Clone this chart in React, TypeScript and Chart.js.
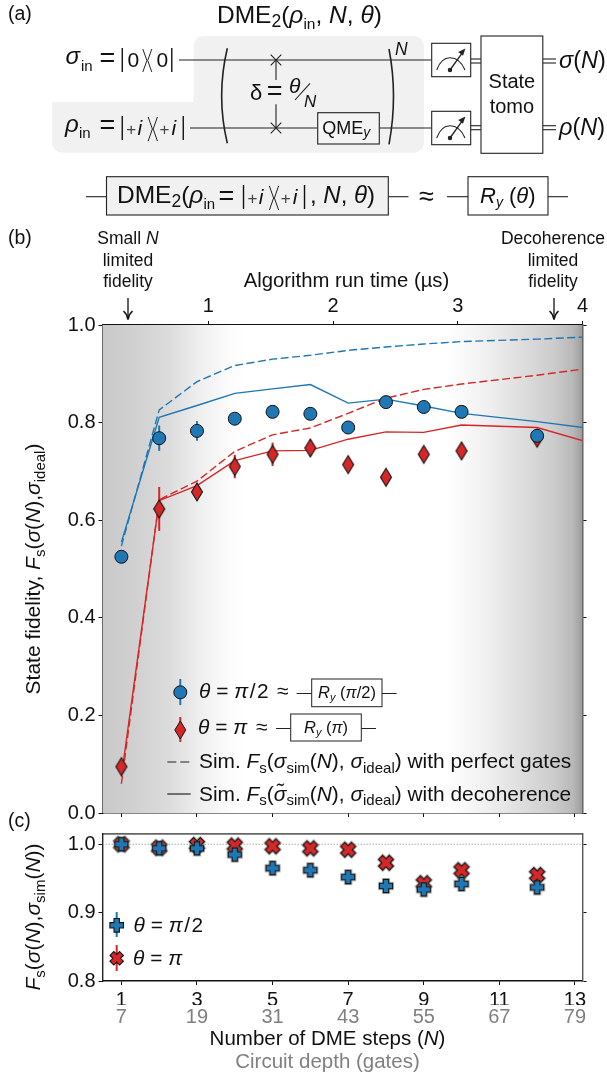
import React, { useEffect, useRef } from "react";
import { Chart, registerables } from "chart.js";

Chart.register(...registerables);

const FONT = '"Liberation Sans", Arial, sans-serif';
const BLUE = "#1f77b4";
const RED = "#d62728";

// ---- Data ----
const stepN = [1, 2, 3, 4, 5, 6, 7, 8, 9, 10, 12];
const simN = [1, 2, 3, 4, 5, 6, 7, 8, 9, 10, 12, 14];

const blueMeasured = [0.525, 0.768, 0.783, 0.808, 0.822, 0.818, 0.79, 0.842, 0.832, 0.822, 0.773];
const blueMeasuredErr = [0.006, 0.026, 0.02, 0.008, 0.006, 0.006, 0.006, 0.006, 0.006, 0.006, 0.012];
const redMeasured = [0.095, 0.623, 0.658, 0.71, 0.735, 0.748, 0.714, 0.688, 0.735, 0.742, 0.768];
const redMeasuredErr = [0.012, 0.045, 0.015, 0.024, 0.024, 0.016, 0.012, 0.012, 0.012, 0.012, 0.012];

const bluePerfect = [0.547, 0.826, 0.884, 0.917, 0.93, 0.938, 0.948, 0.955, 0.961, 0.966, 0.971, 0.978];
const blueDecoh = [0.555, 0.811, 0.835, 0.86, 0.869, 0.878, 0.84, 0.848, 0.834, 0.819, 0.802, 0.782];
const redPerfect = [0.06, 0.642, 0.68, 0.741, 0.775, 0.789, 0.819, 0.85, 0.868, 0.879, 0.897, 0.918];
const redDecoh = [0.075, 0.64, 0.671, 0.722, 0.742, 0.743, 0.766, 0.781, 0.78, 0.795, 0.79, 0.745];

const bluePerf = [1.0, 0.994, 0.994, 0.985, 0.965, 0.962, 0.952, 0.939, 0.934, 0.942, 0.937];
const bluePerfErr = [0.002, 0.003, 0.004, 0.004, 0.004, 0.004, 0.004, 0.004, 0.004, 0.004, 0.004];
const redPerf = [1.0, 0.995, 0.999, 0.998, 0.997, 0.994, 0.992, 0.973, 0.943, 0.962, 0.955];
const redPerfErr = [0.002, 0.003, 0.004, 0.004, 0.003, 0.003, 0.003, 0.004, 0.004, 0.004, 0.004];

const stepTicks = [1, 3, 5, 7, 9, 11, 13];
const depthLabels = [7, 19, 31, 43, 55, 67, 79];
const timeTicks = [1, 2, 3, 4];
const fidelityTicks = [0, 0.2, 0.4, 0.6, 0.8, 1.0];
const overlapTicks = [0.8, 0.9, 1.0];
const refLineN = [0.5, 13.2];
const refLineY = [1, 1];

const N_MIN = 0.5;
const N_MAX = 13.2;
const US_PER_STEP = 0.303;

// ---- Helpers ----
const pts = (xs: number[], ys: number[]) => xs.map((x, i) => ({ x, y: ys[i] }));

function marker(w: number, h: number, path: (c: CanvasRenderingContext2D) => void, fill: string, halo: boolean) {
  const cv = document.createElement("canvas");
  cv.width = w;
  cv.height = h;
  const c = cv.getContext("2d")!;
  c.translate(w / 2, h / 2);
  path(c);
  if (halo) {
    c.strokeStyle = "rgba(120,120,120,0.45)";
    c.lineWidth = 3;
    c.stroke();
  }
  c.fillStyle = fill;
  c.fill();
  c.strokeStyle = "#111";
  c.lineWidth = 1.1;
  c.lineJoin = "miter";
  c.stroke();
  return cv;
}
const diamondPath = (c: CanvasRenderingContext2D) => {
  c.beginPath();
  c.moveTo(0, -9);
  c.lineTo(5.5, 0);
  c.lineTo(0, 9);
  c.lineTo(-5.5, 0);
  c.closePath();
};
const plusPath = (rot: number, a: number, b: number) => (c: CanvasRenderingContext2D) => {
  c.rotate(rot);
  c.beginPath();
  c.moveTo(-b, -a);
  c.lineTo(b, -a);
  c.lineTo(b, -b);
  c.lineTo(a, -b);
  c.lineTo(a, b);
  c.lineTo(b, b);
  c.lineTo(b, a);
  c.lineTo(-b, a);
  c.lineTo(-b, b);
  c.lineTo(-a, b);
  c.lineTo(-a, -b);
  c.lineTo(-b, -b);
  c.closePath();
};

const errorBarPlugin = {
  id: "errorBars",
  beforeDatasetDraw(chart: any, args: any) {
    const ds = chart.data.datasets[args.index];
    if (!ds.errors) return;
    const { x, y } = chart.scales;
    const c = chart.ctx;
    c.save();
    c.strokeStyle = ds.errorColor;
    c.lineWidth = 2;
    ds.data.forEach((p: any, i: number) => {
      const px = x.getPixelForValue(p.x);
      c.beginPath();
      c.moveTo(px, y.getPixelForValue(p.y - ds.errors[i]));
      c.lineTo(px, y.getPixelForValue(p.y + ds.errors[i]));
      c.stroke();
    });
    c.restore();
  },
};

const vignettePlugin = {
  id: "vignette",
  beforeDatasetsDraw(chart: any) {
    const { ctx, chartArea: a } = chart;
    const g = ctx.createLinearGradient(a.left, 0, a.right, 0);
    [
      [0, "#c9c9c9"],
      [0.08, "#d2d2d2"],
      [0.14, "#dcdcdc"],
      [0.2, "#eeeeee"],
      [0.27, "#fdfdfd"],
      [0.3, "#ffffff"],
      [0.72, "#ffffff"],
      [0.8, "#f0f0f0"],
      [0.88, "#dcdcdc"],
      [0.94, "#cccccc"],
      [0.98, "#b8b8b8"],
      [1, "#9c9c9c"],
    ].forEach(([o, col]) => g.addColorStop(o as number, col as string));
    ctx.save();
    ctx.fillStyle = g;
    ctx.fillRect(a.left, a.top, a.right - a.left, a.bottom - a.top);
    ctx.restore();
  },
};

const fixedH = (h: number) => (s: any) => {
  s.height = h;
};
const fixedW = (w: number) => (s: any) => {
  s.width = w;
};
const setTicks = (vals: number[]) => (s: any) => {
  s.ticks = vals.map((value) => ({ value }));
};
const tickFont = { family: FONT, size: 20 };
const tickGrid = { drawOnChartArea: false, tickLength: 4, tickColor: "#111", tickWidth: 1 };

function lineDs(xs: number[], ys: number[], color: string, dashed: boolean, order: number) {
  return {
    data: pts(xs, ys),
    showLine: true,
    borderColor: color,
    borderWidth: 1.4,
    borderDash: dashed ? [8, 3.5] : [],
    pointRadius: 0,
    tension: 0,
    order,
  };
}
function markDs(ys: number[], errs: number[], style: any, color: string, order: number, radius: number) {
  return {
    data: pts(stepN, ys),
    errors: errs,
    errorColor: color,
    showLine: false,
    pointStyle: style,
    pointRadius: radius,
    pointBackgroundColor: color,
    pointBorderColor: "#111",
    pointBorderWidth: 1,
    order,
    clip: false,
  };
}

// ---- Small SVG text helpers ----
const I = ({ children }: any) => <tspan fontStyle="italic">{children}</tspan>;
const Sub = ({ t, d = 5, size = 14, italic = false }: any) => (
  <>
    <tspan dy={d} fontSize={size} fontStyle={italic ? "italic" : "normal"}>
      {t}
    </tspan>
    <tspan dy={-d}>{"\u200b"}</tspan>
  </>
);
const txt = { fontFamily: FONT, fill: "#111" };

const Bar = ({ x, y }: any) => (
  <text transform={`translate(${x} ${y}) scale(0.7 1)`} fontSize={25} textAnchor="middle">|</text>
);

// |0><0| : bars and digits are text, the narrow touching angle brackets are strokes.
const ZeroKet = () => (
  <g {...txt}>
    <Bar x={122.3} y={67} />
    <text x={127.5} y={66.7} fontSize={21}>0</text>
    <path d="M 142.8 49 L 146.9 60.5 L 142.8 72 M 151.8 49 L 147.7 60.5 L 151.8 72" fill="none" stroke="#222" strokeWidth={1} />
    <text x={156.5} y={66.7} fontSize={21}>0</text>
    <Bar x={171.7} y={67} />
  </g>
);
const PlusKet = ({ dx = 0, dy = 0 }: any) => (
  <g {...txt} transform={`translate(${dx} ${dy})`}>
    <Bar x={122.3} y={135} />
    <text x={126.3} y={134.5} fontSize={17} fontWeight={200} fill="#444">+</text>
    <text x={137.5} y={135} fontSize={21} fontStyle="italic">i</text>
    <path d="M 148.2 117 L 152.4 129 L 148.2 141 M 157.4 117 L 153.2 129 L 157.4 141" fill="none" stroke="#222" strokeWidth={1} />
    <text x={159.5} y={134.5} fontSize={17} fontWeight={200} fill="#444">+</text>
    <text x={171.5} y={135} fontSize={21} fontStyle="italic">i</text>
    <Bar x={183.3} y={135} />
  </g>
);

const Meter = ({ y }: { y: number }) => (
  <g fill="none" stroke="#222" strokeWidth={1.1}>
    <rect x={431.7} y={y} width={39} height={33.4} fill="#fff" />
    <path d={`M 436.7 ${y + 26.7} Q 441 ${y + 14.4} 450 ${y + 14.4} Q 460 ${y + 14.4} 465 ${y + 26.7}`} />
    <line x1={450} y1={y + 26.7} x2={463} y2={y + 8.5} strokeWidth={1.3} />
    <path d={`M 465.4 ${y + 5.2} l -7.2 3.6 l 4.8 3.6 Z`} fill="#222" stroke="none" />
    <circle cx={450} cy={y + 26.7} r={1.7} fill="#222" />
  </g>
);

const Arrow = ({ x }: { x: number }) => (
  <g stroke="#111" fill="none">
    <line x1={x} y1={298} x2={x} y2={318} strokeWidth={1.3} />
    <path d={`M ${x - 4.5} 311 Q ${x - 1} 314 ${x} 319.5 Q ${x + 1} 314 ${x + 4.5} 311`} strokeWidth={1.5} />
  </g>
);

function Overlay() {
  const base = txt;
  return (
    <svg
      width={607}
      height={1078}
      style={{ position: "absolute", left: 0, top: 0, pointerEvents: "none" }}
      xmlns="http://www.w3.org/2000/svg"
    >
      {/* Panel letters */}
      <g {...base} fontSize={19.5}>
        <text x={8} y={20}>(a)</text>
        <text x={8} y={244}>(b)</text>
        <text x={8} y={827}>(c)</text>
      </g>

      {/* Panel (a): circuit */}
      <path
        d="M 203.6 36 H 414 a 10 10 0 0 1 10 10 V 142.7 a 10 10 0 0 1 -10 10 H 62 a 10 10 0 0 1 -10 -10 V 102 H 193.6 V 46 a 10 10 0 0 1 10 -10 Z"
        fill="#f1f1f1"
      />
      <text {...base} x={217} y={23} fontSize={24.5}>
        DME<Sub t="2" d={4} size={17.5} />(<I>ρ</I><Sub t="in" d={6} size={15.5} />, <I>N</I>, <I>θ</I>)
      </text>
      <g stroke="#222" strokeWidth={1.1} fill="none">
        <line x1={179} y1={60} x2={431.7} y2={60} />
        <line x1={190} y1={128} x2={317.7} y2={128} />
        <line x1={379.3} y1={128} x2={431.7} y2={128} />
        <path d="M 227.3 48.3 Q 216 96 227.3 143.3" strokeWidth={1.6} />
        <path d="M 389 49 Q 398 96 389 144.3" strokeWidth={1.6} />
        <line x1={276} y1={60} x2={276} y2={80} />
        <line x1={276} y1={104.3} x2={276} y2={128} />
        <path d="M 270.7 54.7 L 281.3 65.3 M 270.7 65.3 L 281.3 54.7" />
        <path d="M 270.7 122.7 L 281.3 133.3 M 270.7 133.3 L 281.3 122.7" />
        <rect x={317.7} y={112.7} width={61.6} height={31.3} fill="#f4f4f4" />
        <line x1={470.7} y1={59} x2={481} y2={59} />
        <line x1={470.7} y1={63} x2={481} y2={63} />
        <line x1={470.7} y1={125.7} x2={481} y2={125.7} />
        <line x1={470.7} y1={129.7} x2={481} y2={129.7} />
        <line x1={542.8} y1={59} x2={556} y2={59} />
        <line x1={542.8} y1={63} x2={556} y2={63} />
        <line x1={542.8} y1={125.7} x2={556} y2={125.7} />
        <line x1={542.8} y1={129.7} x2={556} y2={129.7} />
        <rect x={481} y={36} width={61.8} height={117.3} fill="#fff" />
        <line x1={310} y1={83.3} x2={295} y2={100} />
      </g>
      <Meter y={43.3} />
      <Meter y={111.3} />
      <g {...base}>
        <text x={65.5} y={64.3} fontSize={24}><I>σ</I></text>
        <text x={81} y={71} fontSize={15}>in</text>
        <text x={99.5} y={66.5} fontSize={27}>=</text>
        <text x={65} y={132} fontSize={24}><I>ρ</I></text>
        <text x={79} y={138.3} fontSize={15}>in</text>
        <text x={99.5} y={134} fontSize={27}>=</text>
        <text x={250} y={100} fontSize={22}>δ</text>
        <text x={266.8} y={100} fontSize={27}>=</text>
        <text x={289} y={93.3} fontSize={21} fontStyle="italic">θ</text>
        <text x={304} y={106.7} fontSize={17} fontStyle="italic">N</text>
        <text x={395} y={55} fontSize={17.5} fontStyle="italic">N</text>
        <text x={322.3} y={134} fontSize={18}>
          QME<Sub t="y" d={3} size={14} italic />
        </text>
        <text x={511.9} y={88} fontSize={20} textAnchor="middle">State</text>
        <text x={511.9} y={113} fontSize={20} textAnchor="middle">tomo</text>
        <text x={559} y={68} fontSize={23.5}><I>σ</I>(<I>N</I>)</text>
        <text x={559} y={135} fontSize={23.5}><I>ρ</I>(<I>N</I>)</text>
      </g>
      <ZeroKet />
      <PlusKet />

      {/* Panel (a): equation */}
      <g stroke="#222" strokeWidth={1.1} fill="none">
        <line x1={86} y1={196.7} x2={106.5} y2={196.7} />
        <line x1={388.3} y1={196.7} x2={408.5} y2={196.7} />
        <line x1={447} y1={196.7} x2={468} y2={196.7} />
        <line x1={548} y1={196.7} x2={568} y2={196.7} />
        <rect x={106.5} y={176.7} width={281.8} height={38.3} fill="#f1f1f1" />
        <rect x={468} y={176.7} width={80} height={38.3} fill="#fff" />
      </g>
      <g {...base}>
        <text x={117} y={203.3} fontSize={24.5}>
          DME<Sub t="2" d={4} size={17.5} />(<I>ρ</I><Sub t="in" d={6} size={15} />
        </text>
        <text x={218.5} y={205} fontSize={27}>=</text>
        <text x={310} y={203.3} fontSize={24}>, <I>N</I>, <I>θ</I>)</text>
        <text x={419} y={205} fontSize={27}>≈</text>
        <text x={480} y={203} fontSize={22}>
          <I>R</I><Sub t="y" d={4} size={14} italic /> (<I>θ</I>)
        </text>
      </g>
      <PlusKet dx={121.2} dy={69} />

      {/* Panel (b): annotations */}
      <g {...base} fontSize={17.5} textAnchor="middle">
        <text x={128} y={244}>Small <I>N</I></text>
        <text x={128} y={266}>limited</text>
        <text x={128} y={287}>fidelity</text>
        <text x={553} y={244}>Decoherence</text>
        <text x={553} y={266}>limited</text>
        <text x={553} y={287}>fidelity</text>
      </g>
      <text {...base} x={346.5} y={287} fontSize={20.3} textAnchor="middle">Algorithm run time (µs)</text>
      <Arrow x={128} />
      <Arrow x={554} />
      <text {...base} transform="translate(40 569) rotate(-90)" fontSize={21} textAnchor="middle">
        State fidelity, <I>F</I><Sub t="s" d={4.5} size={15} />(<I>σ</I>(<I>N</I>),<I>σ</I><Sub t="ideal" d={4.5} size={15} />)
      </text>

      {/* Panel (b): legend */}
      <line x1={180.3} y1={679} x2={180.3} y2={705} stroke={BLUE} strokeWidth={2} />
      <circle cx={180.3} cy={692.3} r={6.5} fill={BLUE} stroke="#111" strokeWidth={1} />
      <line x1={180.3} y1={717} x2={180.3} y2={742} stroke={RED} strokeWidth={2} />
      <path d="M 180.3 721 L 185.8 730 L 180.3 739 L 174.8 730 Z" fill={RED} stroke="#111" strokeWidth={1} />
      <g stroke="#222" strokeWidth={1} fill="none">
        <line x1={296.7} y1={693.5} x2={396.7} y2={693.5} />
        <rect x={311.7} y={679} width={70.3} height={27.7} fill="#fff" />
        <line x1={276} y1={728.5} x2={376} y2={728.5} />
        <rect x={290.7} y={714} width={70.6} height={27} fill="#fff" />
      </g>
      <g stroke="#222" strokeWidth={1.2}>
        <line x1={167.3} y1={762} x2={190.7} y2={762} strokeDasharray="9 4" />
        <line x1={167.3} y1={794} x2={190.7} y2={794} />
      </g>
      <g {...base} fontSize={20.9}>
        <text x={199} y={698}><I>θ</I> = <I>π</I><tspan dx={1.5}>/</tspan><tspan dx={1.5}>2</tspan></text>
        <text x={277} y={698}>≈</text>
        <text x={198} y={734}><I>θ</I> = <I>π</I></text>
        <text x={256} y={734}>≈</text>
        <text x={347} y={698} fontSize={16.5} textAnchor="middle"><I>R</I><Sub t="y" d={3} size={11} italic /> (<I>π</I>/2)</text>
        <text x={326} y={733} fontSize={16.5} textAnchor="middle"><I>R</I><Sub t="y" d={3} size={11} italic /> (<I>π</I>)</text>
        <text x={199} y={768.3}>
          Sim. <I>F</I><Sub t="s" d={4.5} size={15} />(<I>σ</I><Sub t="sim" d={4.5} size={15} />(<I>N</I>), <I>σ</I><Sub t="ideal" d={4.5} size={15} />) with perfect gates
        </text>
        <text x={199} y={800.7}>
          Sim. <I>F</I><Sub t="s" d={4.5} size={15} />(<I>σ̃</I><Sub t="sim" d={4.5} size={15} />(<I>N</I>), <I>σ</I><Sub t="ideal" d={4.5} size={15} />) with decoherence
        </text>
      </g>

      {/* Panel (c): text */}
      <text {...base} transform="translate(40 917) rotate(-90)" fontSize={21} textAnchor="middle">
        <I>F</I><Sub t="s" d={4.5} size={15} />(<I>σ</I>(<I>N</I>),<I>σ</I><Sub t="sim" d={4.5} size={15} />(<I>N</I>))
      </text>
      <line x1={116.7} y1={912} x2={116.7} y2={937} stroke={BLUE} strokeWidth={2} />
      <line x1={116.7} y1={945} x2={116.7} y2={971} stroke={RED} strokeWidth={2} />
      <path d="M 114 918.5 h 5.4 v 4.1 h 4.1 v 5.4 h -4.1 v 4.1 h -5.4 v -4.1 h -4.1 v -5.4 h 4.1 Z" fill={BLUE} stroke="#111" strokeWidth={1.1} />
      <path
        d="M 114 951.5 h 5.4 v 4.1 h 4.1 v 5.4 h -4.1 v 4.1 h -5.4 v -4.1 h -4.1 v -5.4 h 4.1 Z"
        transform="rotate(45 116.7 958.3)"
        fill={RED}
        stroke="#111"
        strokeWidth={1.1}
      />
      <g {...base} fontSize={20.9}>
        <text x={133.6} y={931.7}><I>θ</I> = <I>π</I><tspan dx={1.5}>/</tspan><tspan dx={1.5}>2</tspan></text>
        <text x={133} y={965}><I>θ</I> = <I>π</I></text>
      </g>
      <g {...base} fontSize={20.5}>
        <text x={327.5} y={1045} textAnchor="middle">Number of DME steps (<I>N</I>)</text>
        <text x={327.5} y={1068} textAnchor="middle" fill="#808080">Circuit depth (gates)</text>
      </g>
    </svg>
  );
}

export default function App() {
  const bRef = useRef<HTMLCanvasElement>(null);
  const cRef = useRef<HTMLCanvasElement>(null);

  useEffect(() => {
    const diamond = marker(14, 22, diamondPath, RED, false);
    const plus = marker(20, 20, plusPath(0, 6.6, 2.7), BLUE, true);
    const ex = marker(22, 22, plusPath(Math.PI / 4, 7.6, 2.9), RED, true);

    const chartB = new Chart(bRef.current!, {
      type: "scatter",
      plugins: [vignettePlugin, errorBarPlugin],
      data: {
        datasets: [
          markDs(blueMeasured, blueMeasuredErr, "circle", BLUE, 0, 6.5),
          markDs(redMeasured, redMeasuredErr, diamond, RED, 1, 6),
          lineDs(simN, bluePerfect, BLUE, true, 3),
          lineDs(simN, blueDecoh, BLUE, false, 3),
          lineDs(simN, redPerfect, RED, true, 2),
          lineDs(simN, redDecoh, RED, false, 2),
        ] as any,
      },
      options: {
        animation: false,
        responsive: false,
        devicePixelRatio: 1,
        layout: { padding: 0 },
        plugins: { legend: { display: false }, tooltip: { enabled: false } },
        scales: {
          x: {
            type: "linear",
            position: "bottom",
            min: N_MIN,
            max: N_MAX,
            afterBuildTicks: setTicks(stepTicks),
            afterFit: fixedH(13.7),
            ticks: { display: false },
            grid: tickGrid,
            border: { color: "#111", width: 1.4 },
          },
          time: {
            axis: "x",
            type: "linear",
            position: "top",
            min: N_MIN * US_PER_STEP,
            max: N_MAX * US_PER_STEP,
            afterBuildTicks: setTicks(timeTicks),
            afterFit: fixedH(45),
            ticks: {
              font: tickFont,
              color: "#111",
              padding: 3,
              maxRotation: 0,
              autoSkip: false,
              callback: (v: any) => String(v),
            },
            grid: tickGrid,
            border: { color: "#111", width: 1.4 },
          },
          y: {
            type: "linear",
            position: "left",
            min: 0,
            max: 1,
            afterBuildTicks: setTicks(fidelityTicks),
            afterFit: fixedW(102.5),
            ticks: {
              font: tickFont,
              color: "#111",
              padding: 3,
              callback: (v: any) => Number(v).toFixed(1),
            },
            grid: tickGrid,
            border: { color: "#111", width: 1.4 },
          },
          yRight: {
            axis: "y",
            type: "linear",
            position: "right",
            min: 0,
            max: 1,
            afterBuildTicks: setTicks(fidelityTicks),
            afterFit: fixedW(24.5),
            ticks: { display: false },
            grid: tickGrid,
            border: { color: "#333", width: 1.4 },
          },
        },
      } as any,
    });

    const chartC = new Chart(cRef.current!, {
      type: "scatter",
      plugins: [errorBarPlugin],
      data: {
        datasets: [
          markDs(bluePerf, bluePerfErr, plus, BLUE, 0, 6),
          markDs(redPerf, redPerfErr, ex, RED, 1, 6),
          {
            data: pts(refLineN, refLineY),
            showLine: true,
            borderColor: "#999",
            borderWidth: 0.8,
            borderDash: [1.5, 1.5],
            pointRadius: 0,
            order: 3,
          },
        ] as any,
      },
      options: {
        animation: false,
        responsive: false,
        devicePixelRatio: 1,
        layout: { padding: 0 },
        plugins: { legend: { display: false }, tooltip: { enabled: false } },
        scales: {
          x: {
            type: "linear",
            position: "bottom",
            weight: 0,
            min: N_MIN,
            max: N_MAX,
            afterBuildTicks: setTicks(stepTicks),
            afterFit: fixedH(24),
            ticks: {
              font: tickFont,
              color: "#111",
              padding: 3,
              maxRotation: 0,
              autoSkip: false,
              callback: (v: any) => String(v),
            },
            grid: tickGrid,
            border: { color: "#111", width: 1.4 },
          },
          depth: {
            axis: "x",
            type: "linear",
            position: "bottom",
            weight: 1,
            min: N_MIN,
            max: N_MAX,
            afterBuildTicks: setTicks(stepTicks),
            afterFit: fixedH(73),
            ticks: {
              font: tickFont,
              color: "#808080",
              padding: 0,
              maxRotation: 0,
              autoSkip: false,
              callback: (_v: any, i: number) => String(depthLabels[i]),
            },
            grid: { display: false, drawTicks: false },
            border: { display: false },
          },
          top: {
            axis: "x",
            type: "linear",
            position: "top",
            min: N_MIN,
            max: N_MAX,
            afterBuildTicks: setTicks([]),
            afterFit: fixedH(20),
            ticks: { display: false },
            grid: { display: false, drawTicks: false },
            border: { color: "#666", width: 1.8 },
          },
          y: {
            type: "linear",
            position: "left",
            min: 0.8,
            max: 1.015,
            afterBuildTicks: setTicks(overlapTicks),
            afterFit: fixedW(102.5),
            ticks: {
              font: tickFont,
              color: "#111",
              padding: 3,
              callback: (v: any) => Number(v).toFixed(1),
            },
            grid: tickGrid,
            border: { color: "#222", width: 1.4 },
          },
          yRight: {
            axis: "y",
            type: "linear",
            position: "right",
            min: 0.8,
            max: 1.015,
            afterBuildTicks: setTicks(overlapTicks),
            afterFit: fixedW(24.5),
            ticks: { display: false },
            grid: tickGrid,
            border: { color: "#555", width: 1.4 },
          },
        },
      } as any,
    });

    return () => {
      chartB.destroy();
      chartC.destroy();
    };
  }, []);

  return (
    <div style={{ position: "absolute", left: 0, top: 0, width: 607, height: 1078, background: "#fff", overflow: "hidden" }}>
      <canvas ref={bRef} width={607} height={548} style={{ position: "absolute", left: 0, top: 280, display: "block" }} />
      <canvas ref={cRef} width={607} height={264} style={{ position: "absolute", left: 0, top: 814, display: "block" }} />
      <Overlay />
    </div>
  );
}
